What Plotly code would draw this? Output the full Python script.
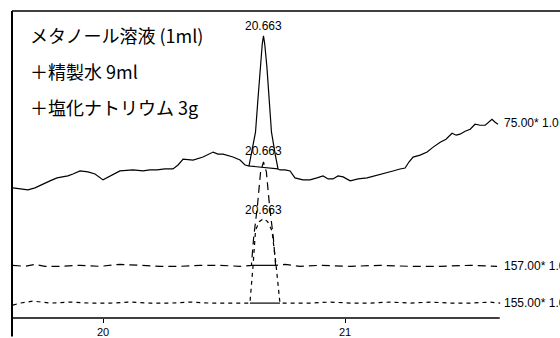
import plotly.graph_objects as go

# Retention time (min) and detector signal for each channel

# Channel 75.00 (solid trace)
t_75 = [19.628, 19.657, 19.690, 19.719, 19.752, 19.781, 19.810, 19.835, 19.855, 19.876,
        19.905, 19.938, 19.967, 20.000, 20.029, 20.070, 20.124, 20.165, 20.194, 20.223,
        20.256, 20.289, 20.310, 20.331, 20.372, 20.413, 20.455, 20.475, 20.496, 20.537,
        20.566, 20.587, 20.603, 20.611, 20.630, 20.640, 20.649, 20.658, 20.663, 20.668,
        20.677, 20.686, 20.696, 20.712, 20.723, 20.731, 20.752, 20.773, 20.793, 20.826,
        20.855, 20.884, 20.909, 20.930, 20.950, 20.971, 20.992, 21.021, 21.054, 21.091,
        21.124, 21.145, 21.174, 21.198, 21.227, 21.248, 21.264, 21.281, 21.310, 21.339,
        21.364, 21.393, 21.417, 21.442, 21.459, 21.475, 21.496, 21.517, 21.537, 21.558,
        21.579, 21.595, 21.607, 21.620, 21.632]
s_75 = [131, 130, 129, 131, 135, 138, 141, 142, 143, 145,
        148, 147, 145, 139, 143, 148, 149, 148, 149, 149,
        150, 150, 154, 160, 159, 162, 167, 165, 165, 162,
        159, 154, 153, 162, 187, 220, 253, 276, 284, 276,
        253, 220, 187, 164, 150, 149, 149, 148, 141, 139,
        139, 141, 143, 140, 140, 143, 142, 138, 140, 141,
        143, 145, 146, 148, 150, 151, 157, 162, 164, 167,
        172, 177, 180, 186, 184, 185, 188, 190, 195, 194,
        194, 197, 200, 197, 195]

# Channel 157.00 (dashed trace)
t_157 = [19.628, 19.678, 19.719, 19.760, 19.822, 19.905, 19.988, 20.070, 20.153, 20.236,
         20.318, 20.401, 20.484, 20.566, 20.613, 20.622, 20.638, 20.651, 20.663, 20.675,
         20.688, 20.704, 20.713, 20.752, 20.814, 20.897, 21.021, 21.145, 21.269, 21.393,
         21.517, 21.628]
s_157 = [53, 52, 54, 52, 52, 53, 52, 54, 53, 52,
         52, 53, 53, 52, 53, 80, 113, 147, 157, 147,
         113, 80, 53, 54, 52, 53, 52, 53, 52, 52,
         53, 52]

# Channel 155.00 (dotted trace)
t_155 = [19.628, 19.657, 19.711, 19.781, 19.864, 19.946, 20.029, 20.112, 20.194, 20.277,
         20.360, 20.442, 20.525, 20.607, 20.620, 20.630, 20.645, 20.663, 20.680, 20.698,
         20.715, 20.731, 20.773, 20.855, 20.938, 21.021, 21.103, 21.186, 21.269, 21.352,
         21.434, 21.517, 21.599, 21.641]
s_155 = [13, 15, 17, 15, 16, 15, 15, 16, 15, 15,
         16, 15, 15, 15, 53, 88, 97, 100, 97, 88,
         53, 15, 15, 15, 16, 15, 15, 16, 15, 16,
         15, 15, 16, 15]

# Integration baselines under each peak (start, end)
base_75_t, base_75_s = [20.603, 20.723], [153, 150]
base_157_t, base_157_s = [20.613, 20.713], [53, 53]
base_155_t, base_155_s = [20.607, 20.731], [15, 15]

peak_rt = 20.663
peak_label_s = [294, 168, 109]

channel_labels = ["75.00* 1.0", "157.00* 1.0", "155.00* 1.0"]
channel_label_s = [196, 52, 15]

sample_lines = ["メタノール溶液 (1ml)", "＋精製水 9ml", "＋塩化ナトリウム 3g"]

tick_vals = [20, 21]
tick_text = ["20", "21"]

NUM_FONT = "Liberation Sans Narrow, Liberation Sans, Arial, sans-serif"
JP_FONT = "Noto Sans CJK JP, sans-serif"

fig = go.Figure()

line_w = 1.2
fig.add_trace(go.Scatter(x=t_75, y=s_75, mode="lines",
                         line=dict(color="black", width=line_w)))
fig.add_trace(go.Scatter(x=t_157, y=s_157, mode="lines",
                         line=dict(color="black", width=line_w, dash="8px,5px")))
fig.add_trace(go.Scatter(x=t_155, y=s_155, mode="lines",
                         line=dict(color="black", width=line_w, dash="4px,4px")))
for bt, bs in [(base_75_t, base_75_s), (base_157_t, base_157_s), (base_155_t, base_155_s)]:
    fig.add_trace(go.Scatter(x=bt, y=bs, mode="lines",
                             line=dict(color="black", width=line_w)))

# Retention time labels above each peak
for s in peak_label_s:
    fig.add_annotation(x=peak_rt, y=s, xref="x", yref="y", text=f"{peak_rt:.3f}",
                       showarrow=False, xanchor="center", yanchor="middle",
                       font=dict(family=NUM_FONT, size=12, color="black"))

# Channel labels at the right end of each trace
for txt, s in zip(channel_labels, channel_label_s):
    fig.add_annotation(x=21.65, y=s, xref="x", yref="y", text=txt,
                       showarrow=False, xanchor="left", yanchor="middle",
                       font=dict(family=NUM_FONT, size=12, color="black"))

# Sample description
for i, txt in enumerate(sample_lines):
    fig.add_annotation(x=0.029, y=0.922 - i * 0.118, xref="paper", yref="paper",
                       text=txt, showarrow=False, xanchor="left", yanchor="middle",
                       font=dict(family=JP_FONT, size=18, color="black"))

# Frame: left axis, top border, bottom time axis
fig.add_shape(type="line", xref="paper", yref="paper", x0=0, x1=0, y0=-0.06, y1=1,
              line=dict(color="black", width=2))
fig.add_shape(type="line", xref="paper", yref="paper", x0=0, x1=1, y0=1, y1=1,
              line=dict(color="black", width=1.5))
fig.add_shape(type="line", xref="paper", yref="paper", x0=0, x1=0.89, y0=0, y1=0,
              line=dict(color="black", width=1.5))

fig.update_layout(
    width=560, height=338,
    margin=dict(l=12, r=0, t=11, b=18),
    paper_bgcolor="white", plot_bgcolor="white",
    showlegend=False,
    xaxis=dict(range=[19.624, 21.888], tickvals=tick_vals, ticktext=tick_text,
               ticks="outside", ticklen=4, tickcolor="black", tickwidth=1,
               showgrid=False, zeroline=False, showline=False,
               tickfont=dict(family=NUM_FONT, size=11, color="black")),
    yaxis=dict(range=[0, 309], visible=False, showgrid=False, zeroline=False),
)

fig.write_html("out.html")
